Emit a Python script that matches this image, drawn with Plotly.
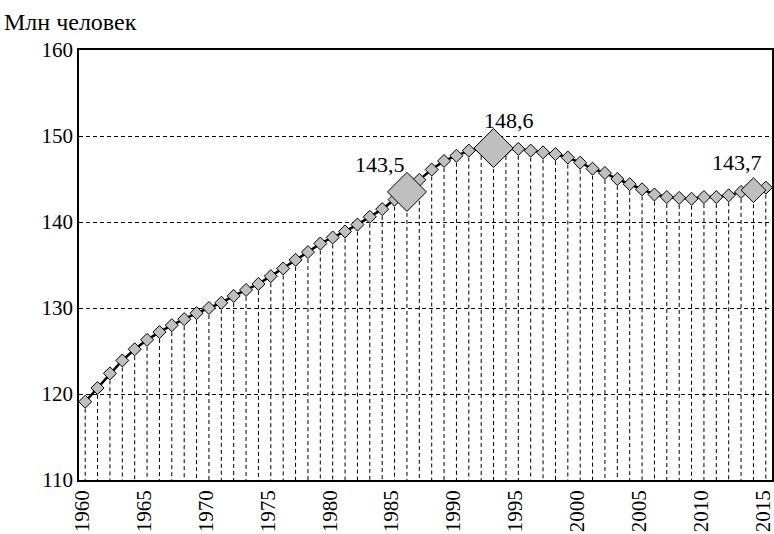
import plotly.graph_objects as go

years = list(range(1960, 2016))
population = [
    119.1, 120.7, 122.4, 123.9, 125.2, 126.3, 127.2, 128.0, 128.7, 129.4,
    130.0, 130.6, 131.4, 132.1, 132.8, 133.7, 134.6, 135.6, 136.5, 137.5,
    138.2, 138.9, 139.7, 140.6, 141.5, 142.6, 143.5, 144.9, 146.1, 147.1,
    147.7, 148.3, 148.5, 148.6, 148.5, 148.5, 148.3, 148.1, 147.9, 147.5,
    146.9, 146.2, 145.7, 145.0, 144.4, 143.8, 143.2, 142.9, 142.8, 142.7,
    142.9, 142.9, 143.1, 143.5, 143.7, 144.0,
]
highlight_years = [1986, 1993, 2014]
highlight_labels = ["143,5", "148,6", "143,7"]
y_title = "Млн человек"
y_ticks = [110, 120, 130, 140, 150, 160]
x_ticks = list(range(1960, 2016, 5))

FONT = "Liberation Serif, Times New Roman, serif"
DASH = "4px,3px"
Y0 = 110

# drop lines
dx, dy = [], []
for x, v in zip(years, population):
    dx += [x, x, None]
    dy += [v, Y0, None]

hv = [population[years.index(y)] for y in highlight_years]

fig = go.Figure()
fig.add_trace(go.Scatter(x=dx, y=dy, mode="lines",
                         line=dict(color="black", width=1, dash=DASH),
                         hoverinfo="skip", showlegend=False))
fig.add_trace(go.Scatter(x=years, y=population, mode="lines",
                         line=dict(color="black", width=2.5),
                         showlegend=False))
fig.add_trace(go.Scatter(x=[y for y in years if y not in highlight_years],
                         y=[v for y, v in zip(years, population) if y not in highlight_years],
                         mode="markers",
                         marker=dict(symbol="diamond", size=10, color="#bfbfbf",
                                     opacity=1, line=dict(color="black", width=1)),
                         showlegend=False))
fig.add_trace(go.Scatter(x=highlight_years, y=hv, mode="markers",
                         marker=dict(symbol="diamond", size=[30, 30, 19], color="#bfbfbf",
                                     opacity=1, line=dict(color="black", width=1)),
                         showlegend=False))

label_xshift = [-27, 15, -16]
for yr, v, lab, xs in zip(highlight_years, hv, highlight_labels, label_xshift):
    fig.add_annotation(x=yr, y=v, text=lab, showarrow=False,
                       xanchor="center", yanchor="bottom",
                       xshift=xs, yshift=13,
                       font=dict(family=FONT, size=22, color="black"))

fig.add_annotation(xref="paper", yref="paper", x=-0.111, y=1.065,
                   text=y_title, showarrow=False, xanchor="left", yanchor="middle",
                   font=dict(family=FONT, size=24, color="black"))

fig.update_layout(
    width=774, height=534,
    margin=dict(l=79, r=2, t=50, b=54, autoexpand=False),
    plot_bgcolor="white", paper_bgcolor="white",
    font=dict(family=FONT, size=21, color="black"),
    showlegend=False,
)
fig.update_xaxes(range=[1959.5, 2015.5], tickvals=x_ticks,
                 ticktext=[str(t) for t in x_ticks], tickangle=-90,
                 showgrid=False, zeroline=False, showline=True, linecolor="black",
                 linewidth=1.5, mirror=True, ticks="", tickfont=dict(size=21),
                 automargin=False, ticklabeloverflow="allow", ticklabelshift=-3)
fig.update_yaxes(range=[110, 160], tickvals=y_ticks, showgrid=True,
                 gridcolor="black", gridwidth=1, griddash=DASH,
                 zeroline=False, showline=True, linecolor="black", linewidth=1.5,
                 mirror=True, ticks="", tickfont=dict(size=21), automargin=False)

fig.write_html("out.html", config={"displayModeBar": False},
               post_script="document.body.style.margin='0';document.body.style.overflow='hidden';")
